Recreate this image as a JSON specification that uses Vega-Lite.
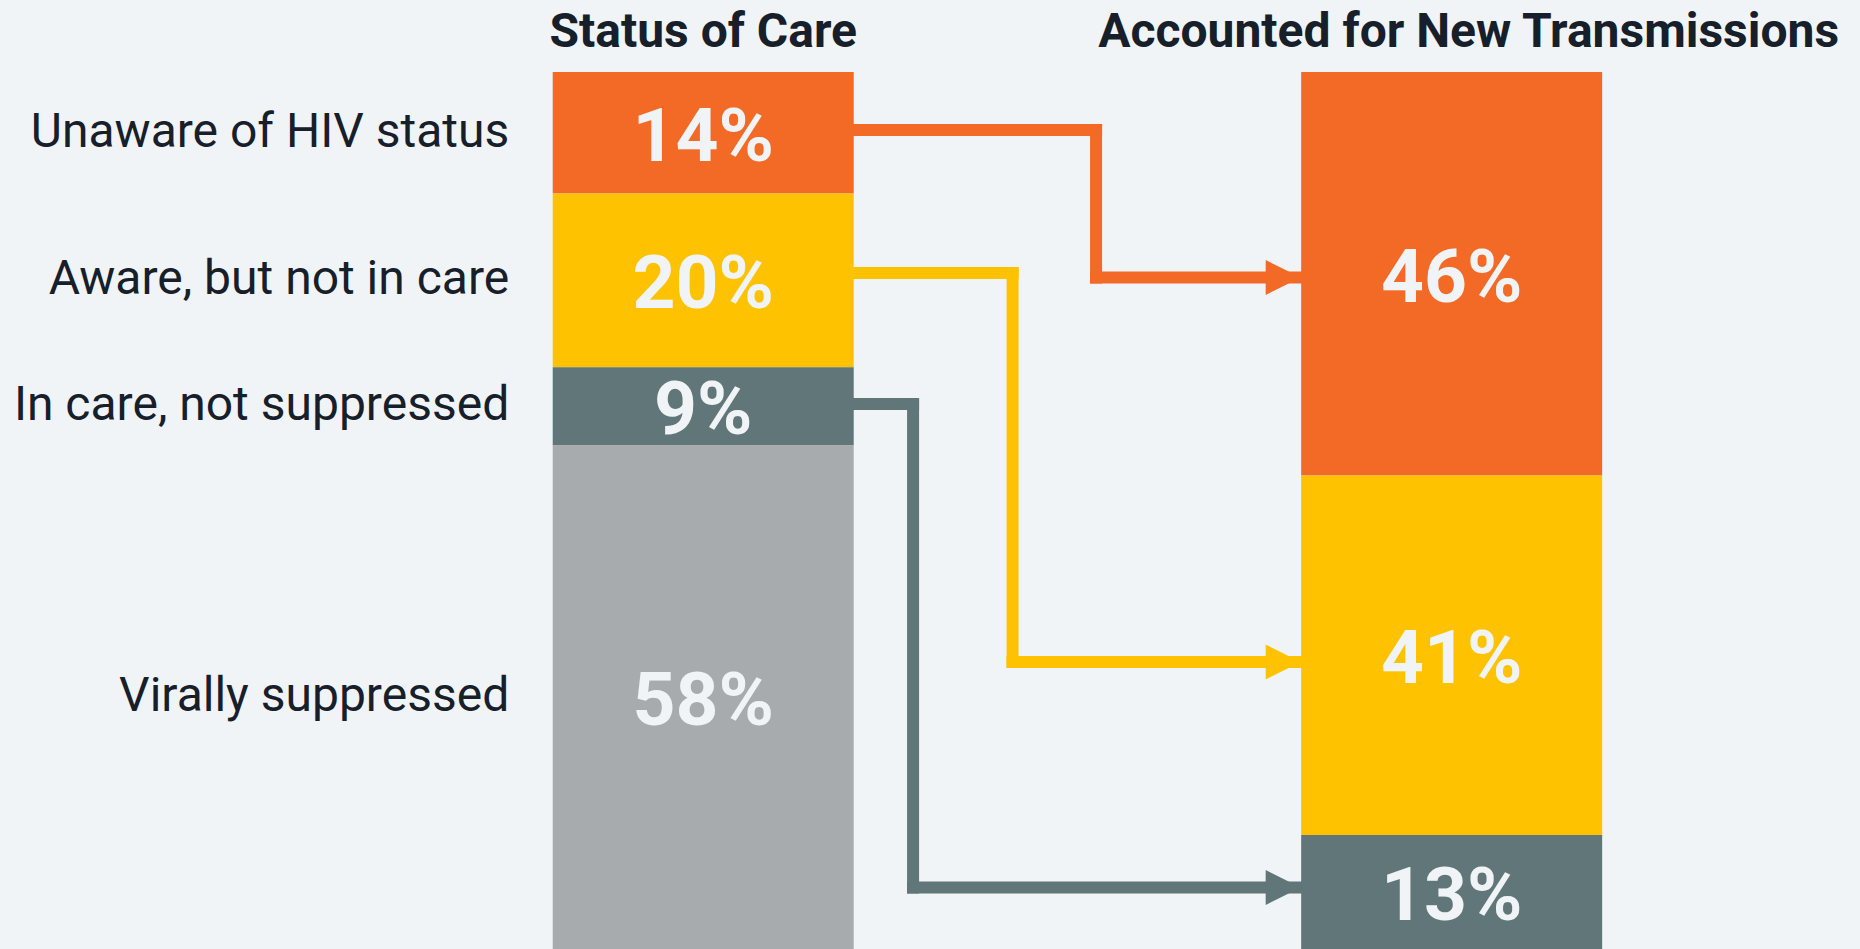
{
  "$schema": "https://vega.github.io/schema/vega-lite/v6.json",
  "width": 1860,
  "height": 949,
  "autosize": {"type": "fit", "contains": "padding"},
  "padding": 0,
  "background": "#F0F4F7",
  "config": {"view": {"stroke": null}, "font": "Roboto"},
  "datasets": {
    "segments": [
      {"chart": "Status of Care", "stage": 1, "status": "Unaware of HIV status", "pct": 14, "order": 1},
      {"chart": "Status of Care", "stage": 1, "status": "Aware, but not in care", "pct": 20, "order": 2},
      {"chart": "Status of Care", "stage": 1, "status": "In care, not suppressed", "pct": 9, "order": 3},
      {"chart": "Status of Care", "stage": 1, "status": "Virally suppressed", "pct": 58, "order": 4},
      {"chart": "Accounted for New Transmissions", "stage": 2, "status": "Unaware of HIV status", "pct": 46, "order": 1},
      {"chart": "Accounted for New Transmissions", "stage": 2, "status": "Aware, but not in care", "pct": 41, "order": 2},
      {"chart": "Accounted for New Transmissions", "stage": 2, "status": "In care, not suppressed", "pct": 13, "order": 3}
    ],
    "arrows": [
      {"status": "Unaware of HIV status", "from": 1, "to": 2, "bend": 1.5249, "fromY": 6.61, "toY": 23.43},
      {"status": "Aware, but not in care", "from": 1, "to": 2, "bend": 1.4133, "fromY": 22.92, "toY": 67.27},
      {"status": "In care, not suppressed", "from": 1, "to": 2, "bend": 1.2804, "fromY": 37.86, "toY": 92.99}
    ]
  },
  "layer": [
    {
      "data": {"name": "arrows"},
      "layer": [
        {
          "mark": {"type": "rule", "strokeWidth": 12, "strokeCap": "square"},
          "encoding": {
            "x": {"field": "from", "type": "quantitative"},
            "x2": {"field": "bend"},
            "y": {"field": "fromY", "type": "quantitative"},
            "color": {"field": "status", "type": "nominal"}
          }
        },
        {
          "mark": {"type": "rule", "strokeWidth": 12, "strokeCap": "square"},
          "encoding": {
            "x": {"field": "bend", "type": "quantitative"},
            "y": {"field": "fromY", "type": "quantitative"},
            "y2": {"field": "toY"},
            "color": {"field": "status", "type": "nominal"}
          }
        },
        {
          "mark": {"type": "rule", "strokeWidth": 12, "strokeCap": "square"},
          "encoding": {
            "x": {"field": "bend", "type": "quantitative"},
            "x2": {"field": "to"},
            "y": {"field": "toY", "type": "quantitative"},
            "color": {"field": "status", "type": "nominal"}
          }
        },
        {
          "mark": {"type": "point", "filled": true, "opacity": 1, "shape": "M-1,-1L1,0L-1,1Z", "size": 1225, "xOffset": -168.5, "strokeWidth": 0},
          "encoding": {
            "x": {"field": "to", "type": "quantitative"},
            "y": {"field": "toY", "type": "quantitative"},
            "color": {"field": "status", "type": "nominal"}
          }
        }
      ]
    },
    {
      "data": {"name": "segments"},
      "transform": [
        {"joinaggregate": [{"op": "sum", "field": "pct", "as": "total"}], "groupby": ["stage"]},
        {"window": [{"op": "sum", "field": "pct", "as": "cum"}], "sort": [{"field": "order", "order": "ascending"}], "groupby": ["stage"], "frame": [null, 0]},
        {"calculate": "100*(datum.cum-datum.pct)/datum.total", "as": "y0"},
        {"calculate": "100*datum.cum/datum.total", "as": "y1"},
        {"calculate": "(datum.y0+datum.y1)/2", "as": "ymid"},
        {"calculate": "datum.pct+'%'", "as": "label"}
      ],
      "layer": [
        {
          "mark": {"type": "bar", "width": 301, "orient": "vertical"},
          "encoding": {
            "x": {"field": "stage", "type": "quantitative", "scale": {"domain": [0.06711, 2.5389], "nice": false, "zero": false}, "axis": null},
            "y": {"field": "y0", "type": "quantitative", "scale": {"domain": [-8.21, 100], "nice": false, "zero": false, "reverse": true}, "axis": null},
            "y2": {"field": "y1"},
            "color": {
              "field": "status",
              "type": "nominal",
              "scale": {
                "domain": ["Unaware of HIV status", "Aware, but not in care", "In care, not suppressed", "Virally suppressed"],
                "range": ["#F26A25", "#FFC200", "#607679", "#A7ABAE"]
              },
              "legend": null
            }
          }
        },
        {
          "mark": {"type": "text", "font": "Roboto", "fontWeight": "bold", "fontSize": 75, "color": "#F0F4F7", "baseline": "middle", "align": "center", "dy": 5},
          "encoding": {
            "x": {"field": "stage", "type": "quantitative"},
            "y": {"field": "ymid", "type": "quantitative"},
            "text": {"field": "label"}
          }
        },
        {
          "transform": [{"filter": "datum.stage == 1"}],
          "mark": {"type": "text", "font": "Roboto", "fontSize": 48, "color": "#17202A", "baseline": "middle", "align": "right", "dx": -194},
          "encoding": {
            "x": {"field": "stage", "type": "quantitative"},
            "y": {"field": "ymid", "type": "quantitative"},
            "text": {"field": "status"}
          }
        },
        {
          "transform": [{"filter": "datum.order == 1 && datum.stage == 1"}],
          "mark": {"type": "text", "font": "Roboto", "fontWeight": "bold", "fontSize": 48, "color": "#17202A", "baseline": "alphabetic", "align": "center", "dy": -25},
          "encoding": {
            "x": {"field": "stage", "type": "quantitative"},
            "y": {"field": "y0", "type": "quantitative"},
            "text": {"field": "chart"}
          }
        },
        {
          "transform": [{"filter": "datum.order == 1 && datum.stage == 2"}],
          "mark": {"type": "text", "font": "Roboto", "fontWeight": "bold", "fontSize": 48, "color": "#17202A", "baseline": "alphabetic", "align": "center", "dy": -25, "dx": 17},
          "encoding": {
            "x": {"field": "stage", "type": "quantitative"},
            "y": {"field": "y0", "type": "quantitative"},
            "text": {"field": "chart"}
          }
        }
      ]
    }
  ]
}
